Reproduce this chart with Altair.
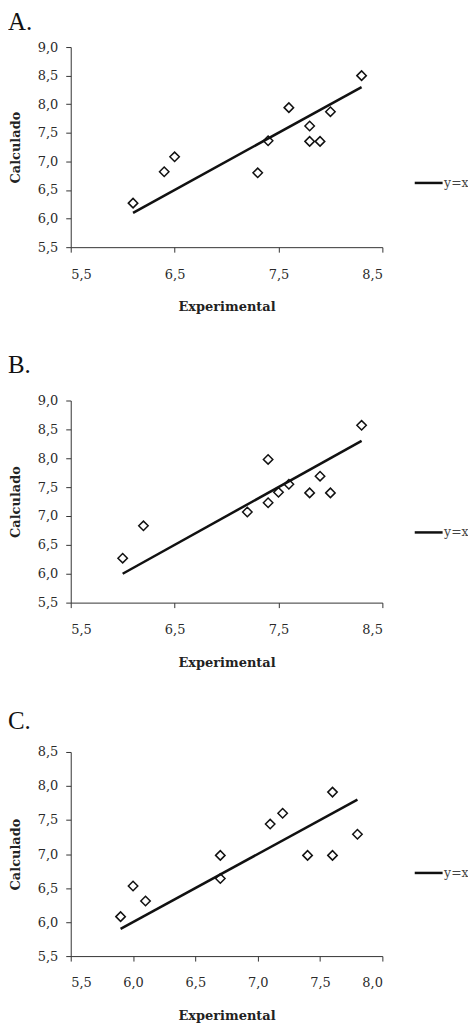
import altair as alt
import pandas as pd

# ---- data ----
a_x = [6.1, 6.4, 6.5, 7.3, 7.4, 7.6, 7.8, 7.8, 7.9, 8.0, 8.3]
a_y = [6.27, 6.82, 7.08, 6.80, 7.36, 7.94, 7.62, 7.35, 7.35, 7.87, 8.50]

b_x = [6.0, 6.2, 7.2, 7.4, 7.4, 7.5, 7.6, 7.8, 7.9, 8.0, 8.3]
b_y = [6.27, 6.83, 7.07, 7.98, 7.23, 7.41, 7.55, 7.40, 7.69, 7.40, 8.57]

c_x = [5.9, 6.0, 6.1, 6.7, 6.7, 7.1, 7.2, 7.4, 7.6, 7.6, 7.8]
c_y = [6.08, 6.53, 6.31, 6.98, 6.64, 7.44, 7.60, 6.98, 7.91, 6.98, 7.29]

titles = ["A.", "B.", "C."]
x_domains = [[5.5, 8.5], [5.5, 8.5], [5.5, 8.0]]
x_ticks = [[5.5, 6.5, 7.5, 8.5], [5.5, 6.5, 7.5, 8.5], [5.5, 6.0, 6.5, 7.0, 7.5, 8.0]]
y_domains = [[5.5, 9.0], [5.5, 9.0], [5.5, 8.5]]
y_ticks = [[5.5, 6.0, 6.5, 7.0, 7.5, 8.0, 8.5, 9.0],
           [5.5, 6.0, 6.5, 7.0, 7.5, 8.0, 8.5, 9.0],
           [5.5, 6.0, 6.5, 7.0, 7.5, 8.0, 8.5]]
line_label = "y=x"

FONT = "DejaVu Serif"
comma = "replace(format(datum.value, '.1f'), '.', ',')"

heights = [201, 203, 205]
legend_ys = [121, 117, 106]
title_offsets = [-14, -3.5, -7.5]


def panel(i, xs, ys):
    pts = pd.DataFrame({"Experimental": xs, "Calculado": ys})
    lo, hi = min(xs), max(xs)
    ln = pd.DataFrame({"Experimental": [lo, hi], "Calculado": [lo, hi],
                       "serie": [line_label, line_label]})

    xenc = alt.X("Experimental:Q",
                 scale=alt.Scale(domain=x_domains[i], nice=False, zero=False),
                 axis=alt.Axis(values=x_ticks[i], labelExpr=comma, title="Experimental"))
    yenc = alt.Y("Calculado:Q",
                 scale=alt.Scale(domain=y_domains[i], nice=False, zero=False),
                 axis=alt.Axis(values=y_ticks[i], labelExpr=comma, title="Calculado"))

    line = alt.Chart(ln).mark_line(strokeWidth=2.5, clip=False).encode(
        x=xenc, y=yenc,
        color=alt.Color("serie:N", scale=alt.Scale(range=["#111111"]),
                        legend=alt.Legend(orient="none", legendX=344, legendY=legend_ys[i],
                                          title=None, symbolType="stroke", symbolSize=784,
                                          symbolStrokeWidth=2.5, labelFont=FONT,
                                          labelFontSize=12.5, labelColor="#444444",
                                          labelOffset=0, padding=0)),
    )
    points = alt.Chart(pts).mark_point(shape="diamond", filled=False, color="#111111",
                                       strokeWidth=1.5, size=90, opacity=1).encode(
        x=xenc, y=yenc)

    return alt.layer(line, points).properties(
        width=313, height=heights[i],
        title=alt.TitleParams(titles[i], anchor="start", frame="group", dx=-63,
                              offset=title_offsets[i], baseline="alphabetic",
                              font="Liberation Serif", fontSize=25, fontWeight="normal",
                              color="#111111"),
    ).resolve_scale(color="independent")


chart = alt.vconcat(
    panel(0, a_x, a_y), panel(1, b_x, b_y), panel(2, c_x, c_y), spacing=39
).resolve_scale(x="independent", y="independent", color="independent").resolve_legend(
    color="independent"
).properties(
    padding={"left": 0, "top": 0, "right": -1, "bottom": 0}
).configure_view(stroke=None).configure_axis(
    grid=False, domainColor="#333333", tickColor="#333333", tickSize=5,
    labelFont=FONT, labelFontSize=13, labelColor="#2a2a2a",
    titleFont=FONT, titleFontSize=13, titleFontWeight="bold", titleColor="#222222",
).configure_axisX(labelPadding=16, titlePadding=20).configure_axisY(
    labelPadding=8, titlePadding=15
)

chart.save("out.html", embed_options={"renderer": "svg", "actions": False})
